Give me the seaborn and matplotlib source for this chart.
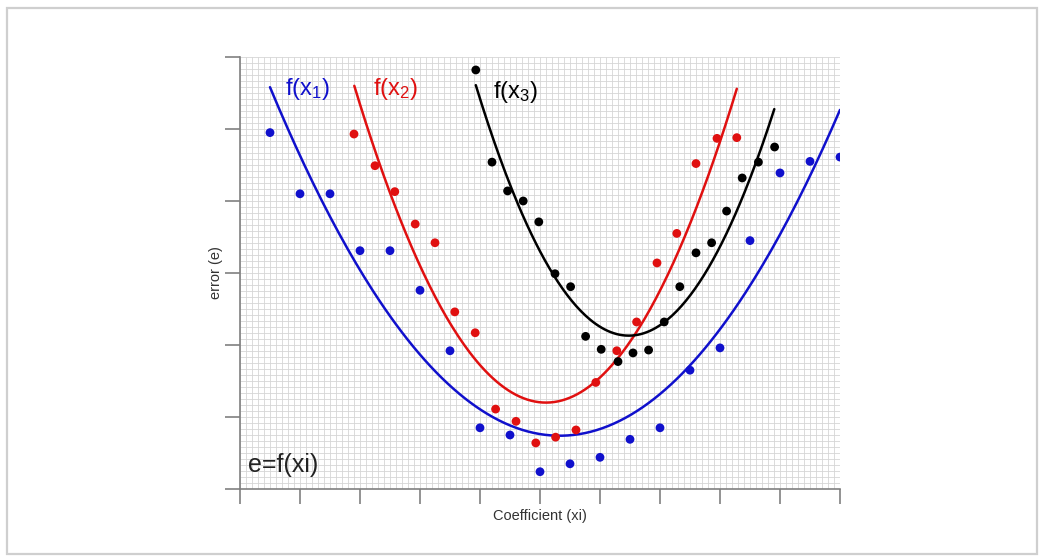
import numpy as np
import pandas as pd
import matplotlib
matplotlib.use("Agg")
import matplotlib.pyplot as plt
import seaborn as sns
from matplotlib.patches import Rectangle

# ---------------- data ----------------
x1 = [0.5, 1.0, 1.5, 2.0, 2.5, 3.0, 3.5, 4.0, 4.5, 5.0,
      5.5, 6.0, 6.5, 7.0, 7.5, 8.0, 8.5, 9.0, 9.5, 10.0]
e1 = [4.95, 4.10, 4.10, 3.31, 3.31, 2.76, 1.92, 0.85, 0.75, 0.24,
      0.35, 0.44, 0.69, 0.85, 1.65, 1.96, 3.45, 4.39, 4.55, 4.61]

x2 = [1.90, 2.25, 2.58, 2.92, 3.25, 3.58, 3.92, 4.26, 4.60, 4.93,
      5.26, 5.60, 5.93, 6.28, 6.61, 6.95, 7.28, 7.60, 7.95, 8.28]
e2 = [4.93, 4.49, 4.13, 3.68, 3.42, 2.46, 2.17, 1.11, 0.94, 0.64,
      0.72, 0.82, 1.48, 1.92, 2.32, 3.14, 3.55, 4.52, 4.87, 4.88]

x3 = [3.93, 4.20, 4.46, 4.72, 4.98, 5.25, 5.51, 5.76, 6.02, 6.30,
      6.55, 6.81, 7.07, 7.33, 7.60, 7.86, 8.11, 8.37, 8.64, 8.91]
e3 = [5.82, 4.54, 4.14, 4.00, 3.71, 2.99, 2.81, 2.12, 1.94, 1.77,
      1.89, 1.93, 2.32, 2.81, 3.28, 3.42, 3.86, 4.32, 4.54, 4.75]

# fitted parabolas e = a*(x - h)^2 + k, drawn over [x_start, x_end]
curve_names = ["f1", "f2", "f3"]
curve_h = [5.33, 5.10, 6.48]
curve_k = [0.74, 1.20, 2.13]
curve_a = [0.2075, 0.431, 0.535]
curve_start = [0.5, 1.905, 3.93]
curve_end = [10.0, 8.28, 8.905]

labels = ["f(x$_1$)", "f(x$_2$)", "f(x$_3$)"]
label_x = [0.75, 2.22, 4.22]
label_y = [5.47, 5.47, 5.43]
colors = ["#1010cc", "#e01010", "#000000"]

x_title = "Coefficient (xi)"
y_title = "error (e)"
formula = "e=f(xi)"

# ---------------- build tables ----------------
pts = pd.concat([
    pd.DataFrame({"x": x1, "e": e1, "s": "f1"}),
    pd.DataFrame({"x": x2, "e": e2, "s": "f2"}),
    pd.DataFrame({"x": x3, "e": e3, "s": "f3"}),
], ignore_index=True)

rows = []
for n, h, k, a, s0, s1 in zip(curve_names, curve_h, curve_k, curve_a, curve_start, curve_end):
    xx = np.linspace(s0, s1, 200)
    rows.append(pd.DataFrame({"x": xx, "e": a * (xx - h) ** 2 + k, "s": n}))
curves = pd.concat(rows, ignore_index=True)

palette = dict(zip(curve_names, colors))

# ---------------- figure ----------------
sns.set_theme(style="white")
plt.rcParams["font.family"] = ["Liberation Sans", "DejaVu Sans"]
plt.rcParams["mathtext.fontset"] = "custom"
plt.rcParams["mathtext.rm"] = "Liberation Sans"
plt.rcParams["mathtext.it"] = "Liberation Sans"

fig = plt.figure(figsize=(10.39, 5.58), dpi=100)
ax = fig.add_axes([240 / 1039, 69 / 558, 600 / 1039, 432 / 558])

ax.set_xlim(0, 10)
ax.set_ylim(0, 6)

# fine graph-paper grid
ax.set_xticks(np.arange(0, 10.01, 1))
ax.set_yticks(np.arange(0, 6.01, 1))
ax.set_xticks(np.arange(0, 10.001, 0.1), minor=True)
ax.set_yticks(np.arange(0, 6.001, 1 / 12), minor=True)
ax.grid(True, which="both", color="#d6d6d6", linewidth=0.6)
ax.set_axisbelow(True)
ax.tick_params(which="minor", length=0)
ax.tick_params(which="major", direction="out", length=10.5, width=1.2,
               color="#808080", labelbottom=False, labelleft=False,
               bottom=True, left=True)

sns.lineplot(data=curves, x="x", y="e", hue="s", palette=palette,
             linewidth=1.8, legend=False, ax=ax, sort=False)
sns.scatterplot(data=pts, x="x", y="e", hue="s", palette=palette,
                s=40, edgecolor="none", legend=False, ax=ax, zorder=3)

for lab, lx, ly, c in zip(labels, label_x, label_y, colors):
    ax.text(lx, ly, lab, color=c, fontsize=17, ha="left", va="baseline")

ax.text(0.13, 0.24, formula, color="#222222", fontsize=18, ha="left",
        va="baseline")

ax.set_xlabel("")
ax.set_ylabel("")
fig.text(540 / 1039, 1 - 516 / 558, x_title, fontsize=10.5, color="#333333",
         ha="center", va="center")
fig.text(216 / 1039, 1 - 273 / 558, y_title, fontsize=10.5, color="#333333",
         ha="center", va="center", rotation=90)

sns.despine(ax=ax)
for sp in ["left", "bottom"]:
    ax.spines[sp].set_color("#808080")
    ax.spines[sp].set_linewidth(1.2)

# outer light frame
fig.patches.append(Rectangle((7 / 1039, 4 / 558), 1030 / 1039, 546 / 558,
                             transform=fig.transFigure, fill=False,
                             edgecolor="#cfcfcf", linewidth=1.6))

fig.savefig("out.png", dpi=100)
